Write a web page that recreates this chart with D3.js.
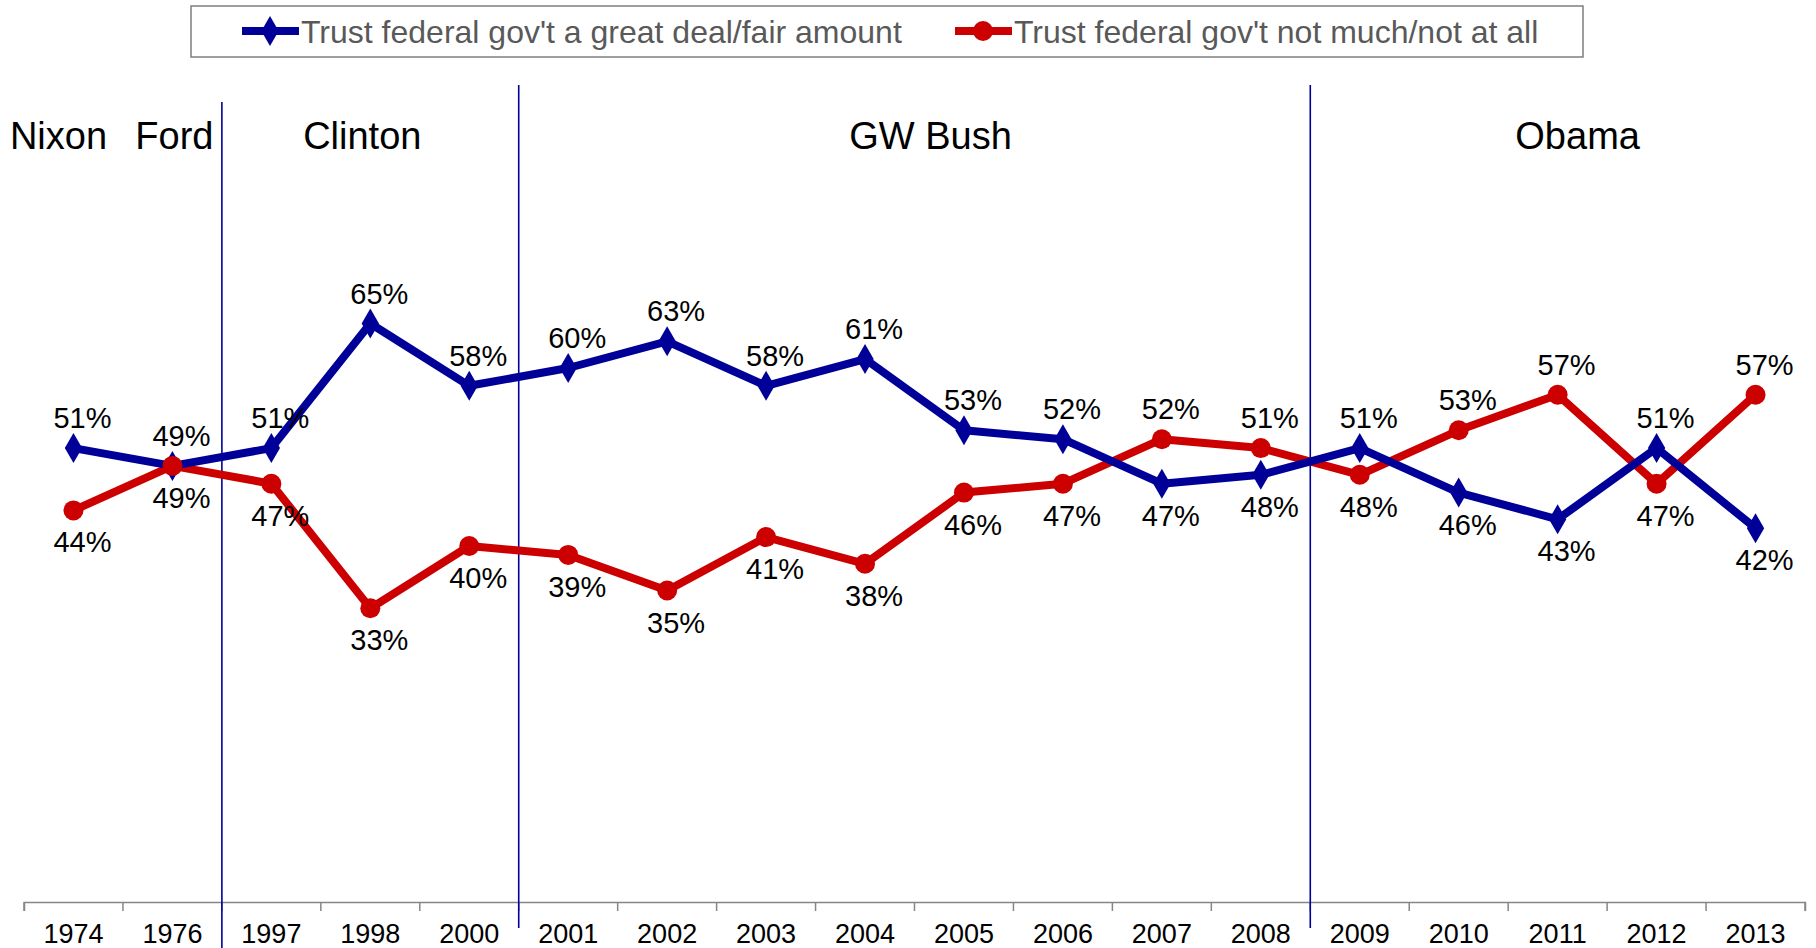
<!DOCTYPE html>
<meta charset="utf-8">
<html>
  <head>
    <title>Trust in federal government</title>
    <style>
      html, body { margin: 0; padding: 0; background: #fff; }
      text { font-family: Arial, 'Liberation Sans', sans-serif; }
      .axis path, .axis line { stroke: #868686; stroke-width: 1.5; }
      .axis text { font-size: 27px; fill: #000; }
      .label { font-size: 29px; fill: #000; text-anchor: middle; }
      .pres { font-size: 38px; fill: #000; text-anchor: middle; }
      .legend text { font-size: 32px; fill: #595959; }
    </style>
  </head>
  <body>
    <svg xmlns="http://www.w3.org/2000/svg"></svg>
    <script src="https://d3js.org/d3.v7.min.js"></script>
    <script>
      var years = ['1974','1976','1997','1998','2000','2001','2002','2003','2004',
                   '2005','2006','2007','2008','2009','2010','2011','2012','2013'];
      var trustGreat = [51,49,51,65,58,60,63,58,61,53,52,47,48,51,46,43,51,42];
      var trustNot   = [44,49,47,33,40,39,35,41,38,46,47,52,51,48,53,57,47,57];

      // presidents: label, first year, last year of the span
      var presidents = [
        {name: 'Nixon',   from: '1974', to: '1974'},
        {name: 'Ford',    from: '1976', to: '1976'},
        {name: 'Clinton', from: '1997', to: '2000'},
        {name: 'GW Bush', from: '2001', to: '2008'},
        {name: 'Obama',   from: '2009', to: '2013'}
      ];
      // a divider goes before these years
      var dividers = ['1997', '2001', '2009'];

      var seriesNames = ["Trust federal gov't a great deal/fair amount",
                         "Trust federal gov't not much/not at all"];

      var width = 1816, height = 948;
      var blue = '#000099', red = '#cc0000';

      var svg = d3.select('svg').attr('width', width).attr('height', height);

      var x = d3.scaleBand().domain(years).range([24, 1805]);
      var y = d3.scaleLinear().domain([0, 100]).range([902, 12]);

      // x axis
      var xAxis = d3.axisBottom(x).tickSize(9).tickSizeOuter(9).tickFormat(function(d){ return d; });
      var gx = svg.append('g').attr('class', 'axis').attr('transform', 'translate(0,' + y(0) + ')').call(xAxis);
      gx.selectAll('.tick line').remove();
      gx.selectAll('.tick text').attr('dy', null).attr('y', 41);
      // ticks at band edges
      var edges = years.map(function(d){ return x(d); }).concat([x.range()[1]]);
      gx.selectAll('line.edge').data(edges).enter().append('line')
        .attr('class', 'edge')
        .attr('x1', function(d){ return d; }).attr('x2', function(d){ return d; })
        .attr('y1', 0).attr('y2', 9);

      // president dividers
      svg.selectAll('line.div').data(dividers).enter().append('line')
        .attr('class', 'div')
        .attr('x1', function(d){ return x(d); }).attr('x2', function(d){ return x(d); })
        .attr('y1', function(d, i){ return i === 0 ? 102 : 85; })
        .attr('y2', function(d, i){ return i === 0 ? 948 : 928; })
        .attr('stroke', blue).attr('stroke-width', 1.6);

      // small nudges so the names sit where the original has them
      var nudge = {'Nixon': -15, 'Ford': 2, 'Clinton': -8, 'GW Bush': 16, 'Obama': 20};
      svg.selectAll('text.pres').data(presidents).enter().append('text')
        .attr('class', 'pres')
        .attr('x', function(d){ return (x(d.from) + x(d.to) + x.bandwidth()) / 2 + nudge[d.name]; })
        .attr('y', 149)
        .text(function(d){ return d.name; });

      var cx = function(d, i){ return x(years[i]) + x.bandwidth() / 2; };
      var line = d3.line().x(function(d, i){ return cx(d, i); }).y(function(d){ return y(d); });

      // lines
      svg.append('path').datum(trustNot).attr('d', line)
        .attr('fill', 'none').attr('stroke', red).attr('stroke-width', 8).attr('stroke-linejoin', 'round');
      svg.append('path').datum(trustGreat).attr('d', line)
        .attr('fill', 'none').attr('stroke', blue).attr('stroke-width', 8).attr('stroke-linejoin', 'round');

      // markers
      var diamond = d3.symbol().type(d3.symbolDiamond).size(260);
      svg.selectAll('path.dm').data(trustGreat).enter().append('path')
        .attr('class', 'dm')
        .attr('d', diamond)
        .attr('transform', function(d, i){ return 'translate(' + cx(d, i) + ',' + y(d) + ')'; })
        .attr('fill', blue);
      svg.selectAll('circle.rd').data(trustNot).enter().append('circle')
        .attr('class', 'rd')
        .attr('cx', cx).attr('cy', function(d){ return y(d); }).attr('r', 10)
        .attr('fill', red);

      // labels: the higher series above, the lower below
      function addLabels(vals, other, isBlue) {
        svg.selectAll(null).data(vals).enter().append('text')
          .attr('class', 'label')
          .attr('x', function(d, i){ return cx(d, i) + 9; })
          .attr('y', function(d, i){
            var above = d > other[i] || (d === other[i] && isBlue);
            return above ? y(d) - 20 : y(d) + 42;
          })
          .text(function(d){ return d + '%'; });
      }
      addLabels(trustGreat, trustNot, true);
      addLabels(trustNot, trustGreat, false);

      // legend
      var lg = svg.append('g').attr('class', 'legend');
      lg.append('rect').attr('x', 191).attr('y', 6).attr('width', 1392).attr('height', 51)
        .attr('fill', '#fff').attr('stroke', '#7f7f7f').attr('stroke-width', 1.5);
      var items = [
        {name: seriesNames[0], color: blue, x: 242, shape: 'diamond'},
        {name: seriesNames[1], color: red, x: 955, shape: 'circle'}
      ];
      items.forEach(function(it){
        lg.append('line').attr('x1', it.x).attr('x2', it.x + 57).attr('y1', 31).attr('y2', 31)
          .attr('stroke', it.color).attr('stroke-width', 8);
        if (it.shape === 'diamond') {
          lg.append('path').attr('d', diamond).attr('transform', 'translate(' + (it.x + 28) + ',31)').attr('fill', it.color);
        } else {
          lg.append('circle').attr('cx', it.x + 28).attr('cy', 31).attr('r', 10).attr('fill', it.color);
        }
        lg.append('text').attr('x', it.x + 59).attr('y', 43).text(it.name);
      });
    </script>
  </body>
</html>
